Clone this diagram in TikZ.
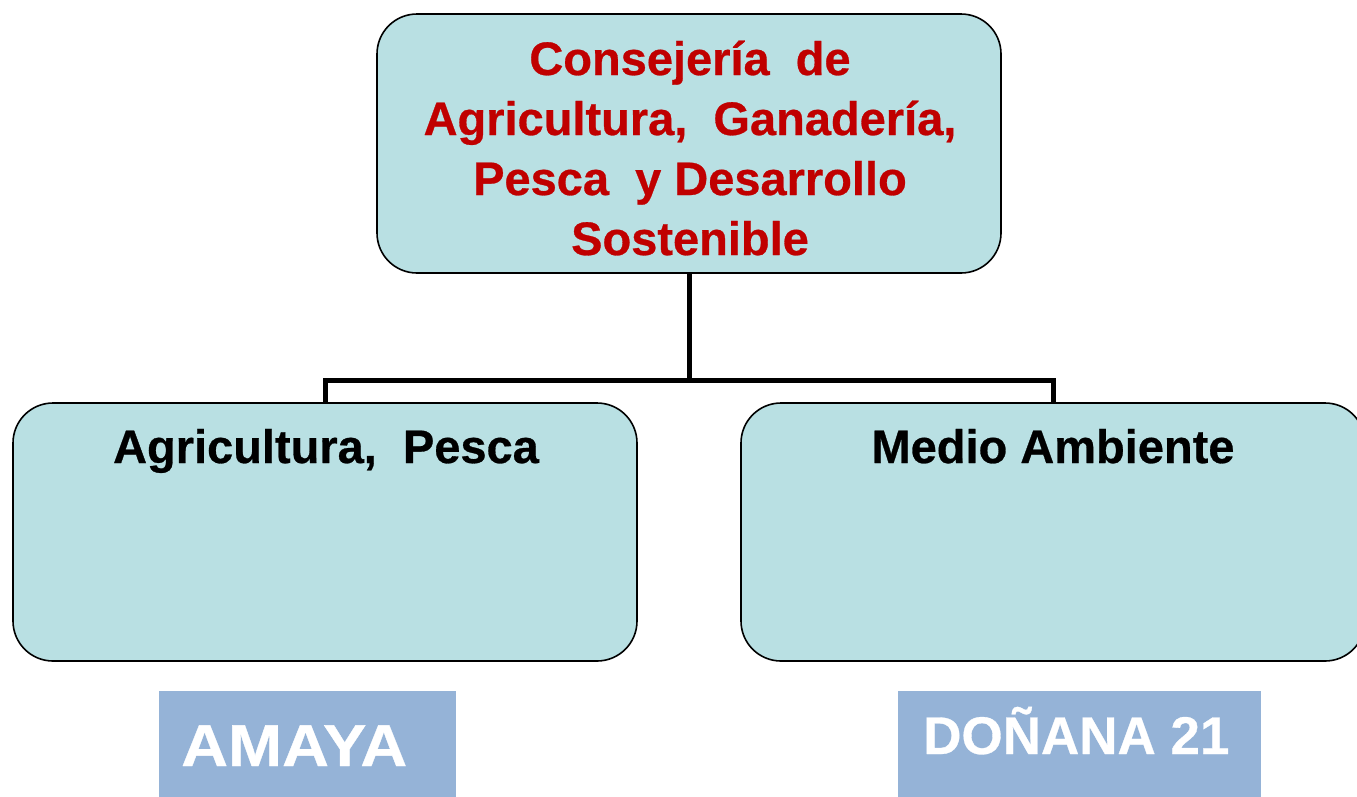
\documentclass[tikz,border=0pt]{standalone}
\usepackage{fontspec}
\setmainfont{Liberation Sans}[BoldFeatures={FakeBold=0.6}]
\newfontfamily\widefont{Liberation Sans}[BoldFeatures={FakeBold=0.6,FakeStretch=1.1}]
\definecolor{boxfill}{HTML}{B9E0E3}
\definecolor{titlered}{HTML}{C00000}
\definecolor{tagfill}{HTML}{95B3D7}
\begin{document}
\begin{tikzpicture}[x=1pt,y=-1pt,
  orgbox/.style={draw=black, line width=1.6pt, fill=boxfill, rounded corners=40pt, inner sep=0pt},
  conn/.style={draw=black, line width=5pt},
  redtxt/.style={text=titlered, font=\fontsize{47}{56}\selectfont\bfseries, anchor=base, inner sep=0pt},
  blktxt/.style={text=black, font=\fontsize{47}{56}\selectfont\bfseries, anchor=base, inner sep=0pt},
  tagbox/.style={fill=tagfill, draw=none, inner sep=0pt, anchor=north west},
  tagtxt/.style={text=white, anchor=base west, inner sep=0pt}]
\useasboundingbox (0,0) rectangle (1357,796);
\node[orgbox, minimum width=624pt, minimum height=259pt] (top) at (689,143.5) {};
\node[orgbox, minimum width=624pt, minimum height=258pt] (left) at (325,532) {};
\node[orgbox, minimum width=624pt, minimum height=258pt] (right) at (1053,532) {};
\coordinate (bus) at (689,380);
\draw[conn] (top.south) -- (bus) -| (left.north);
\draw[conn] (bus) -| (right.north);
\node[redtxt] (t1) at (690,75) {Consejería\ \ de};
\node[redtxt] (t2) at (690,135) {Agricultura,\ \ Ganadería,};
\node[redtxt] (t3) at (690,195) {Pesca\ \ y Desarrollo};
\node[redtxt] (t4) at (690,255) {Sostenible};
\node[blktxt] (l1) at (326,463) {Agricultura,\ \ Pesca};
\node[blktxt] (r1) at (1053,463) {Medio Ambiente};
\node[tagbox, minimum width=297pt, minimum height=130pt] (amaya) at (159,691) {};
\node[tagtxt, font=\widefont\fontsize{59}{66}\selectfont\bfseries] (amayatxt) at (181,766) {AMAYA};
\node[tagbox, minimum width=363pt, minimum height=130pt] (donana) at (898,691) {};
\node[tagtxt, font=\fontsize{53}{60}\selectfont\bfseries] (donanatxt) at (923,754) {DOÑANA 21};
\end{tikzpicture}
\end{document}
